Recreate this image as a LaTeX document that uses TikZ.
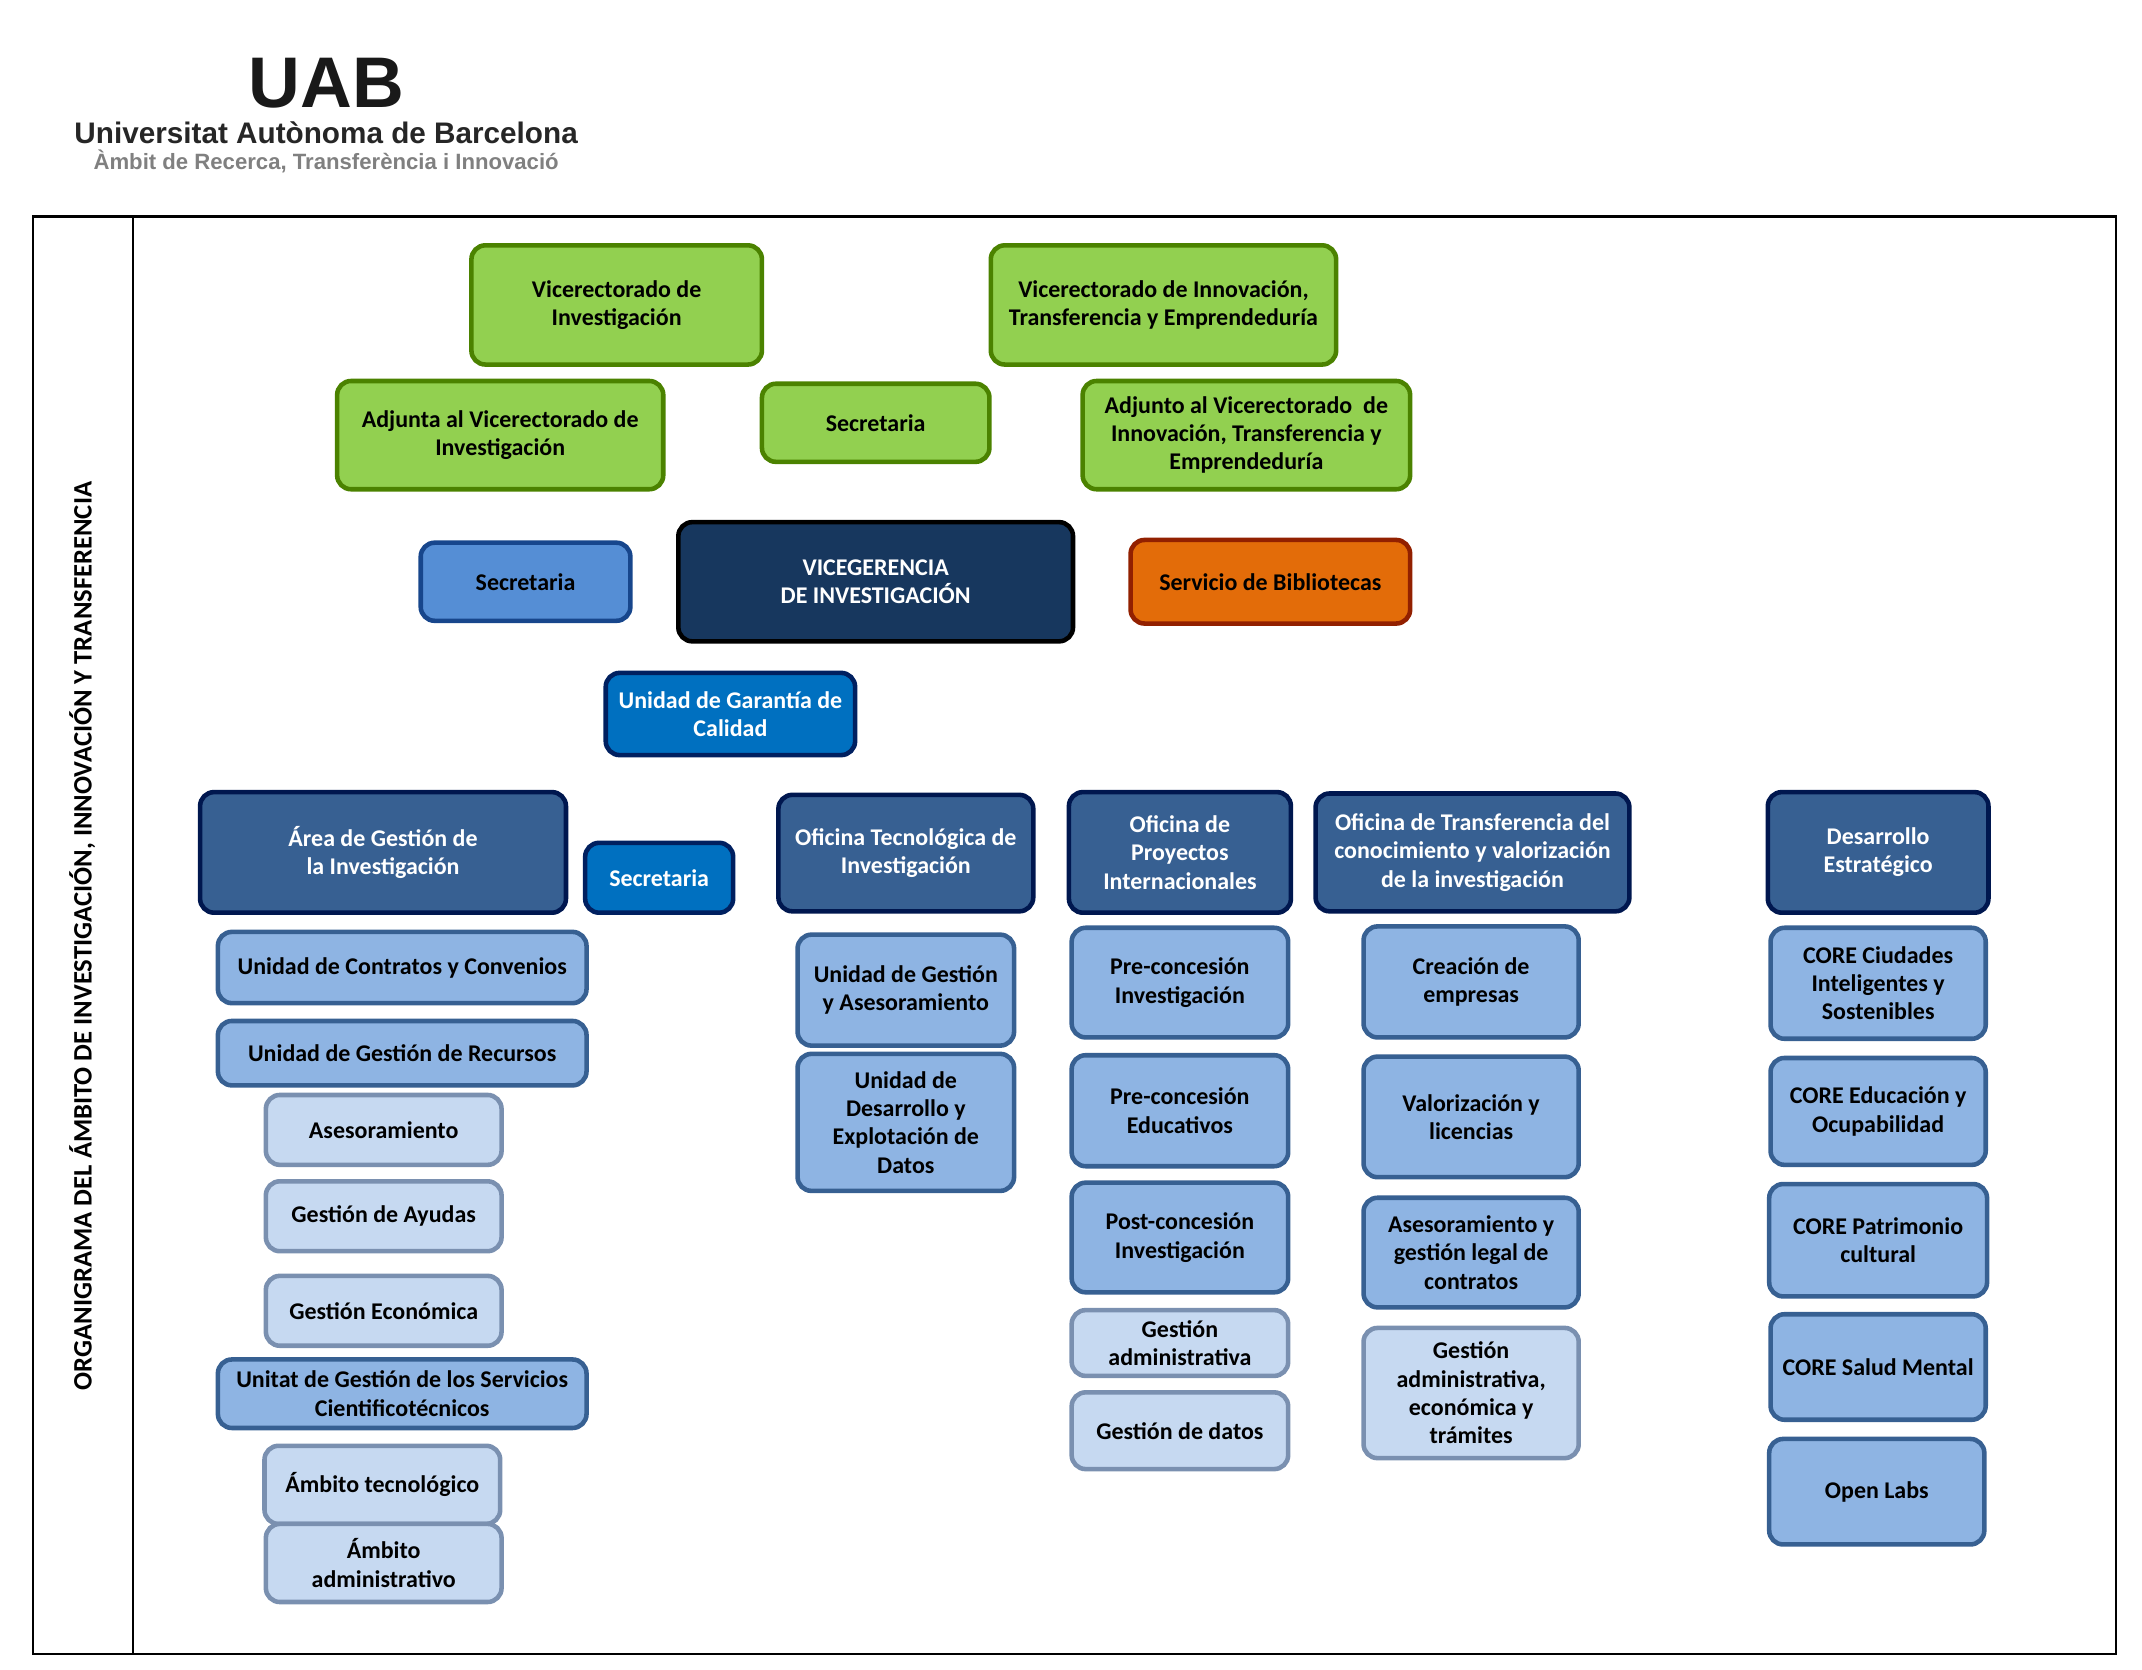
\documentclass[tikz,border=0pt]{standalone}
\usepackage{fontspec}
\setmainfont{Carlito}
\newfontfamily\logofont{Liberation Sans}
\usepackage{xcolor}
\definecolor{vrfill}{HTML}{92D050}
\definecolor{vrline}{HTML}{4B8200}
\definecolor{secfill}{HTML}{558ED5}
\definecolor{secline}{HTML}{17468C}
\definecolor{vgfill}{HTML}{17375E}
\definecolor{bibfill}{HTML}{E36C09}
\definecolor{bibline}{HTML}{922000}
\definecolor{ugcfill}{HTML}{0070C0}
\definecolor{ugcline}{HTML}{002060}
\definecolor{areafill}{HTML}{376092}
\definecolor{arealine}{HTML}{00174F}
\definecolor{unitfill}{HTML}{8EB4E3}
\definecolor{unitline}{HTML}{376092}
\definecolor{subfill}{HTML}{C6D9F1}
\definecolor{subline}{HTML}{7A90B0}
\tikzset{
  orgbox/.style={draw,rounded corners=1.4mm,line width=1.3pt,align=center,inner sep=0pt,
    font=\fontsize{6.82}{8.05}\selectfont\bfseries},
  wh/.style 2 args={minimum width=#1*0.13704mm,minimum height=#2*0.13704mm},
  vrbox/.style={orgbox,fill=vrfill,draw=vrline},
  secbox/.style={orgbox,fill=secfill,draw=secline},
  vgbox/.style={orgbox,fill=vgfill,draw=black,text=white},
  bibbox/.style={orgbox,fill=bibfill,draw=bibline},
  ugcbox/.style={orgbox,fill=ugcfill,draw=ugcline,text=white},
  areabox/.style={orgbox,fill=areafill,draw=arealine,text=white},
  unitbox/.style={orgbox,fill=unitfill,draw=unitline},
  subbox/.style={orgbox,fill=subfill,draw=subline}
}
\begin{document}
\begin{tikzpicture}[x=0.13704mm,y=-0.13704mm]
\useasboundingbox (0,0) rectangle (1563.05,1218.6);
% logo
\node [inner sep=0pt,font=\logofont\bfseries\fontsize{20.4}{20.4}\selectfont,color=black!90] (uab) at (238,61) {UAB};
\node [inner sep=0pt,font=\logofont\bfseries\fontsize{8.45}{9}\selectfont,color=black!85] (uni) at (238,97) {Universitat Autònoma de Barcelona};
\node [inner sep=0pt,font=\logofont\bfseries\fontsize{6.3}{7}\selectfont,color=black!50] (ambit) at (238,117.5) {Àmbit de Recerca, Transferència i Innovació};
% frame
\draw [line width=0.75pt] (24,158) rectangle (1544,1207);
\draw [line width=0.75pt] (97,158) -- (97,1207);
\node [rotate=90,font=\fontsize{7.58}{9}\selectfont\bfseries] (titulo) at (60,683) {ORGANIGRAMA DEL ÁMBITO DE INVESTIGACIÓN, INNOVACIÓN Y TRANSFERENCIA};
% vicerectorados
\node [vrbox,wh={212}{87}] (vrinv) at (450,222.5) {Vicerectorado de\\Investigación};
\node [vrbox,wh={252}{87}] (vrinn) at (849,222.5) {Vicerectorado de Innovación,\\Transferencia y Emprendeduría};
\node [vrbox,wh={238}{79}] (adjinv) at (365,317.5) {Adjunta al Vicerectorado de\\Investigación};
\node [vrbox,wh={166}{57}] (secvr) at (639,308.5) {Secretaria};
\node [vrbox,wh={239}{79}] (adjinn) at (909.5,317.5) {Adjunto al Vicerectorado~ de\\Innovación, Transferencia y\\Emprendeduría};
% vicegerencia
\node [secbox,wh={153}{57}] (secvg) at (383.5,424.5) {Secretaria};
\node [vgbox,wh={288}{87}] (vg) at (639,424.5) {VICEGERENCIA\\DE INVESTIGACIÓN};
\node [bibbox,wh={204}{61}] (bib) at (927,424.5) {Servicio de Bibliotecas};
\node [ugcbox,wh={182}{60}] (ugc) at (533,521) {Unidad de Garantía de\\Calidad};
% areas
\node [areabox,wh={267}{88}] (area) at (279.5,622) {Área de Gestión de\\la Investigación};
\node [ugcbox,wh={108}{51}] (secarea) at (481,640.5) {Secretaria};
\node [areabox,wh={186}{85}] (oftec) at (661,622.5) {Oficina Tecnológica de\\Investigación};
\node [areabox,wh={162}{88}] (ofproy) at (861,622) {Oficina de\\Proyectos\\Internacionales};
\node [areabox,wh={229}{86}] (oftrans) at (1074.5,622) {Oficina de Transferencia del\\conocimiento y valorización\\de la investigación};
\node [areabox,wh={161}{88}] (desest) at (1370.5,622) {Desarrollo\\Estratégico};
% area de gestion
\node [unitbox,wh={269}{52}] (ucontr) at (293.5,706) {Unidad de Contratos y Convenios};
\node [unitbox,wh={269}{47}] (urec) at (293.5,768.5) {Unidad de Gestión de Recursos};
\node [subbox,wh={172}{51}] (ases) at (280,824.5) {Asesoramiento};
\node [subbox,wh={172}{51}] (ayud) at (280,887.5) {Gestión de Ayudas};
\node [subbox,wh={172}{51}] (econ) at (280,956.5) {Gestión Económica};
\node [unitbox,wh={269}{50}] (usct) at (293.5,1017) {Unitat de Gestión de los Servicios\\Cientificotécnicos};
\node [subbox,wh={172}{57}] (tecn) at (279,1083.5) {Ámbito tecnológico};
\node [subbox,wh={172}{57}] (admin) at (280,1140.5) {Ámbito\\administrativo};
% oficina tecnologica
\node [unitbox,wh={158}{81}] (uases) at (661,722.5) {Unidad de Gestión\\y Asesoramiento};
\node [unitbox,wh={158}{100}] (udat) at (661,819) {Unidad de\\Desarrollo y\\Explotación de\\Datos};
% proyectos
\node [unitbox,wh={158}{80}] (preinv) at (861,717) {Pre-concesión\\Investigación};
\node [unitbox,wh={158}{81}] (preedu) at (861,810.5) {Pre-concesión\\Educativos};
\node [unitbox,wh={158}{80}] (postinv) at (861,903) {Post-concesión\\Investigación};
\node [subbox,wh={158}{48}] (gadm) at (861,980) {Gestión\\administrativa};
\node [subbox,wh={158}{56}] (gdat) at (861,1044) {Gestión de datos};
% transferencia
\node [unitbox,wh={157}{81}] (emp) at (1073.5,716.5) {Creación de\\empresas};
\node [unitbox,wh={157}{88}] (val) at (1073.5,815) {Valorización y\\licencias};
\node [unitbox,wh={157}{80}] (legal) at (1073.5,914) {Asesoramiento y\\gestión legal de\\contratos};
\node [subbox,wh={157}{95}] (tram) at (1073.5,1016.5) {Gestión\\administrativa,\\económica y\\trámites};
% desarrollo
\node [unitbox,wh={157}{81}] (cciu) at (1370.5,717.5) {CORE Ciudades\\Inteligentes y\\Sostenibles};
\node [unitbox,wh={157}{78}] (cedu) at (1370.5,811) {CORE Educación y\\Ocupabilidad};
\node [unitbox,wh={159}{82}] (cpat) at (1370.5,905) {CORE Patrimonio\\cultural};
\node [unitbox,wh={157}{77}] (csal) at (1370.5,997.5) {CORE Salud Mental};
\node [unitbox,wh={157}{77}] (olab) at (1369.5,1088.5) {Open Labs};
\end{tikzpicture}
\end{document}
